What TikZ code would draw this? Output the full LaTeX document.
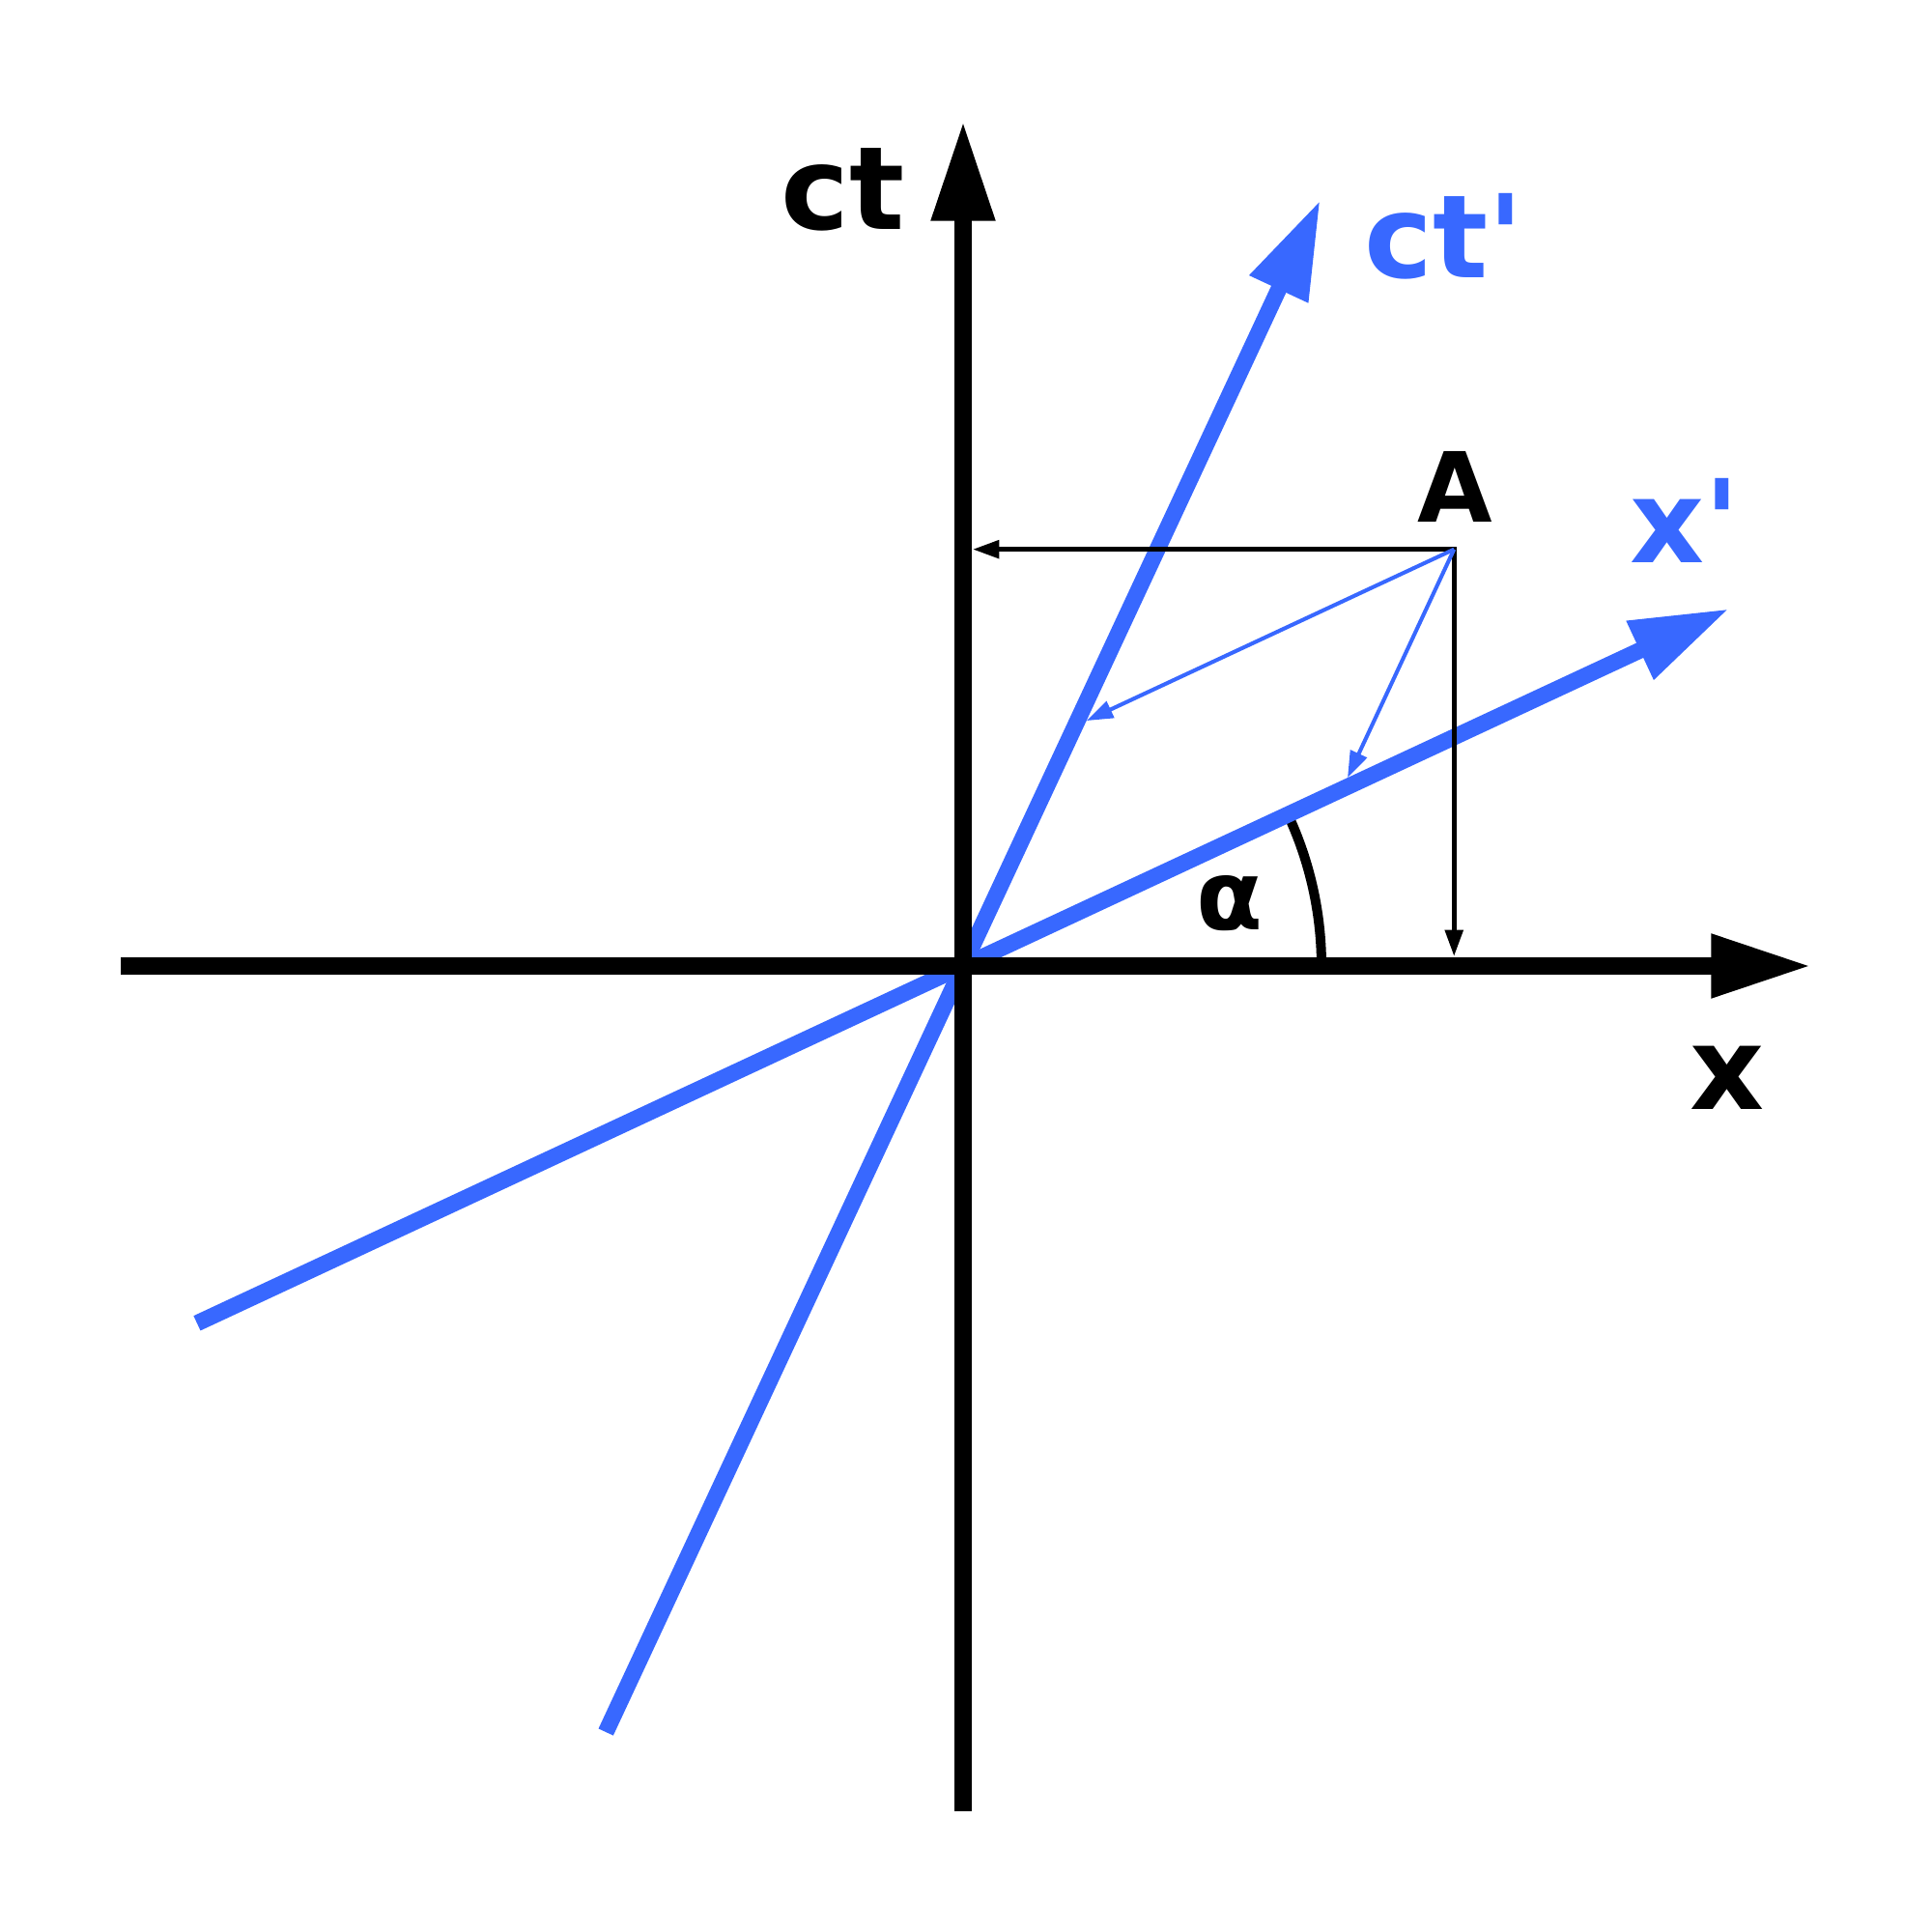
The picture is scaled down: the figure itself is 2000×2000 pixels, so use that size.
\documentclass[tikz,border=0pt]{standalone}
\usepackage{fontspec}
\setmainfont{DejaVu Sans}
\usetikzlibrary{calc}
\usetikzlibrary{arrows.meta}
\definecolor{primeblue}{RGB}{56,104,255}

\begin{document}
\begin{tikzpicture}[x=0.01cm, y=0.01cm,
  axis/.style={black, line width=5.1pt, -{Triangle[length=29.5pt, width=17.6pt]}},
  primeaxis/.style={primeblue, line width=4.8pt, -{Triangle[length=29pt, width=17.8pt]}},
  proj/.style={black, line width=1.4pt, {Triangle[length=7.8pt, width=5.2pt]}-{Triangle[length=7.8pt, width=5.2pt]}},
  primeproj/.style={primeblue, line width=1.15pt, -{Triangle[length=7.8pt, width=5.2pt]}},
  lbl/.style={anchor=base, inner sep=0, font=\bfseries\fontsize{34}{36}\selectfont},
  smalllbl/.style={anchor=base, inner sep=0, font=\bfseries\fontsize{28.5}{30}\selectfont}]
\useasboundingbox (-997,-1000) rectangle (1003,1000);
\coordinate (O) at (0,0);
\coordinate (P1) at (65:274);
\coordinate (P2) at (25:433);
\coordinate (A) at ($(P1)+(P2)$);
% angle between x and x'
\draw[line width=2.85pt] (371,0) arc[start angle=0, end angle=25, radius=371];
\node[smalllbl] (alpha) at (276,37) {α};
% moving frame
\draw[primeaxis] (205:875) -- (25:875);
\draw[primeaxis] (245:875) -- (65:875);
\node[lbl, text=primeblue] (xplabel) at (747,417) {x\textquotesingle};
\node[lbl, text=primeblue] (ctplabel) at (498,712) {ct\textquotesingle};
% rest frame
\draw[axis] (-872,0) -- (878,0);
\draw[axis] (0,-875) -- (0,875);
\node[lbl] (xlabel) at (791,-149) {x};
\node[lbl] (ctlabel) at (-124,762) {ct};
% event A and its coordinates
\draw[proj, line join=miter] ($(A -| O)+(10,0)$) -- (A) -- ($(A |- O)+(0,10)$);
\draw[primeproj] (A) -- ($(P1)+(25:13.2)$);
\draw[primeproj] (A) -- ($(P2)+(65:13.2)$);
\node[smalllbl] (Alabel) at (509,459) {A};
\end{tikzpicture}
\end{document}
